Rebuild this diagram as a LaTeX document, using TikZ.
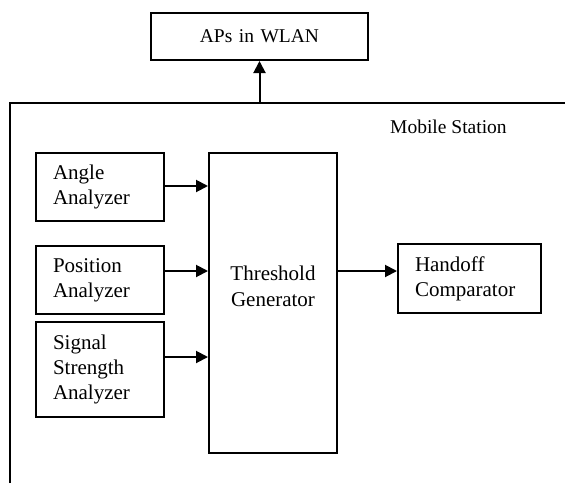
\documentclass[tikz,border=0pt]{standalone}
\usepackage{fontspec}
\setmainfont{Liberation Serif}
\usetikzlibrary{arrows.meta,positioning}

\begin{document}
\begin{tikzpicture}[x=1pt,y=-1pt,->,>={Triangle[length=12pt,width=12pt]},
                    line width=2pt,node distance=20pt,
                    font=\fontsize{21}{25}\selectfont]
\tikzstyle{block}=[draw=black,rectangle,align=left,text width=94pt,
                   inner xsep=17pt,inner ysep=0pt,minimum height=68pt]
\tikzstyle{smalltext}=[font=\fontsize{19.5}{24}\selectfont]
\useasboundingbox (0,0) rectangle (565,483);
\node[block,smalltext,text width=183pt,align=center,minimum height=47pt] (aps) at (259.5,36.5) {APs in WLAN};
\node[smalltext,anchor=base east] (ms) at (511,133) {Mobile Station};
\node[block] (ang) at (100,187) {Angle\\Analyzer};
\node[block] (pos) [below=23pt of ang] {Position\\Analyzer};
\node[block,minimum height=95pt] (sig) [below=6pt of pos] {Signal\\Strength\\Analyzer};
\node[block,text width=94pt,minimum height=300pt,
      label={[align=center,yshift=17pt,font=\fontsize{21}{26}\selectfont]center:Threshold\\Generator}] (thr)
      [right=43pt of ang.north east,anchor=north west] {};
\node[block,text width=109pt,minimum height=69pt] (hnd) at (469.5,278.5) {Handoff\\Comparator};
\coordinate (mstop) at (aps.south |- 0,103);
\draw[-] (10,483) -- (10,103) -- (565,103);
\draw (mstop) -- (aps);
\draw (ang.east |- 0,186) -- (thr.west |- 0,186);
\draw (pos.east |- 0,271) -- (thr.west |- 0,271);
\draw (sig.east |- 0,357) -- (thr.west |- 0,357);
\draw (thr.east |- 0,271) -- (hnd.west |- 0,271);
\end{tikzpicture}
\end{document}
